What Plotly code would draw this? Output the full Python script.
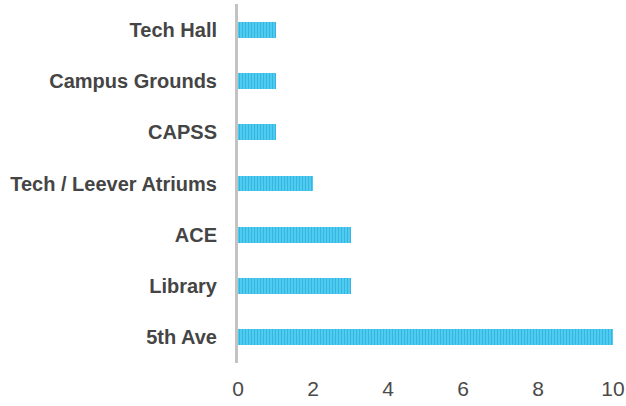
import plotly.graph_objects as go

# Locations and counts (top to bottom as displayed)
locations = ["Tech Hall", "Campus Grounds", "CAPSS", "Tech / Leever Atriums", "ACE", "Library", "5th Ave"]
counts = [1, 1, 1, 2, 3, 3, 10]
x_ticks = [0, 2, 4, 6, 8, 10]

fig = go.Figure(
    go.Bar(
        x=counts,
        y=locations,
        orientation="h",
        width=0.31,
        marker=dict(
            color="#45c6ec",
            line=dict(width=0),
            pattern=dict(shape="|", fgcolor="#1b9fd0", bgcolor="#4fcbef", size=3, solidity=0.35),
        ),
    )
)

fig.update_layout(
    width=626,
    height=406,
    margin=dict(l=238, r=13, t=4, b=43),
    paper_bgcolor="white",
    plot_bgcolor="white",
    showlegend=False,
    bargap=0,
)

fig.update_xaxes(
    range=[0, 10],
    tickvals=x_ticks,
    showgrid=False,
    zeroline=False,
    showline=False,
    ticks="",
    automargin=False,
    tickfont=dict(family="Liberation Sans", size=21, color="#4a4a4a"),
    ticklabelstandoff=11,
)

fig.update_yaxes(
    categoryorder="array",
    categoryarray=locations[::-1],
    showgrid=False,
    zeroline=False,
    showline=True,
    linecolor="#c3c3c3",
    linewidth=3,
    ticks="",
    automargin=False,
    ticklabelstandoff=14,
    tickfont=dict(family="Liberation Sans", size=20, color="#454545", weight="bold"),
)

fig.write_html("out.html")
